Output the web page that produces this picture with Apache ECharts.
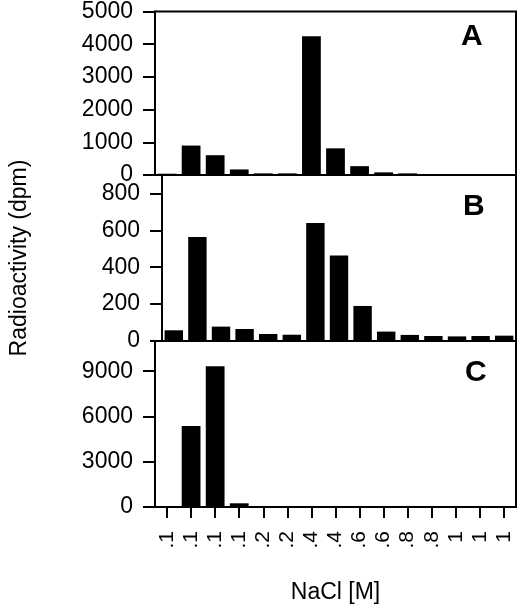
<!DOCTYPE html>
<html>
<head>
<meta charset="utf-8">
<script src="https://cdn.jsdelivr.net/npm/echarts@6/dist/echarts.min.js"></script>
<style>
html,body{margin:0;padding:0;background:#fff;}
#chart{width:520px;height:606px;}
</style>
</head>
<body>
<div id="chart"></div>
<script>
const categories = ['.1','.1','.1','.1','.2','.2','.4','.4','.6','.6','.8','.8','1','1','1'];
const seriesA = [40, 900, 605, 170, 50, 50, 4240, 815, 270, 80, 50, 30, 30, 30, 30];
const seriesB = [58, 564, 78, 65, 38, 34, 640, 463, 190, 51, 33, 27, 25, 27, 29];
const seriesC = [20, 5360, 9330, 245, 60, 40, 50, 60, 50, 40, 70, 50, 40, 40, 50];
const panelLetters = ['A', 'B', 'C'];
const yTitle = 'Radioactivity (dpm)';
const xTitle = 'NaCl [M]';

const FONT = 'Liberation Sans, Arial, Helvetica, sans-serif';
const chart = echarts.init(document.getElementById('chart'), null, {renderer: 'canvas'});

const grids = [
  {left: 155, right: 4, top: 7, height: 168},
  {left: 155, right: 4, top: 175, height: 166},
  {left: 155, right: 4, top: 341, height: 166}
].map(g => Object.assign(g, {show: true, borderColor: '#000', borderWidth: 2, backgroundColor: 'transparent', containLabel: false}));

function xAxisFor(i, last) {
  return {
    type: 'category', gridIndex: i, data: categories, boundaryGap: true,
    axisLine: {show: true, lineStyle: {color: '#000', width: 2}},
    axisTick: {show: last, alignWithLabel: true, interval: 0, length: 11, lineStyle: {color: '#000', width: 2}},
    axisLabel: {show: last, interval: 0, rotate: 90, fontSize: 21, margin: 24, color: '#000', fontFamily: FONT},
    name: last ? xTitle : '', nameLocation: 'middle', nameGap: 74,
    nameTextStyle: {fontSize: 23, color: '#000', fontFamily: FONT},
    splitLine: {show: false}
  };
}
function yAxisFor(i, max, interval, showMax, name) {
  return {
    type: 'value', gridIndex: i, min: 0, max: max, interval: interval,
    axisLine: {show: true, lineStyle: {color: '#000', width: 2}},
    axisTick: {show: true, length: 12, lineStyle: {color: '#000', width: 2}},
    axisLabel: {fontSize: 23, margin: 22, color: '#000', fontFamily: FONT, showMaxLabel: showMax, showMinLabel: true,
      formatter: v => String(v)},
    splitLine: {show: false},
    name: name || '', nameLocation: 'middle', nameGap: 131,
    nameTextStyle: {fontSize: 23, color: '#000', fontFamily: FONT}
  };
}

const barStyle = {color: '#000'};
const option = {
  backgroundColor: '#fff',
  animation: false,
  grid: grids,
  xAxis: [xAxisFor(0, false), xAxisFor(1, false), xAxisFor(2, true)],
  yAxis: [
    yAxisFor(0, 5000, 1000, true),
    yAxisFor(1, 900, 200, false, yTitle),
    yAxisFor(2, 11000, 3000, false)
  ],
  series: [
    {type: 'bar', xAxisIndex: 0, yAxisIndex: 0, data: seriesA, barWidth: '78%', itemStyle: barStyle},
    {type: 'bar', xAxisIndex: 1, yAxisIndex: 1, data: seriesB, barWidth: '78%', itemStyle: barStyle},
    {type: 'bar', xAxisIndex: 2, yAxisIndex: 2, data: seriesC, barWidth: '78%', itemStyle: barStyle}
  ],
  graphic: [
    {type: 'text', left: 461, top: 22, style: {text: panelLetters[0], font: 'bold 30px ' + FONT, fill: '#000'}},
    {type: 'text', left: 463, top: 192, style: {text: panelLetters[1], font: 'bold 30px ' + FONT, fill: '#000'}},
    {type: 'text', left: 465, top: 358, style: {text: panelLetters[2], font: 'bold 30px ' + FONT, fill: '#000'}}
  ]
};
chart.setOption(option);
</script>
</body>
</html>
